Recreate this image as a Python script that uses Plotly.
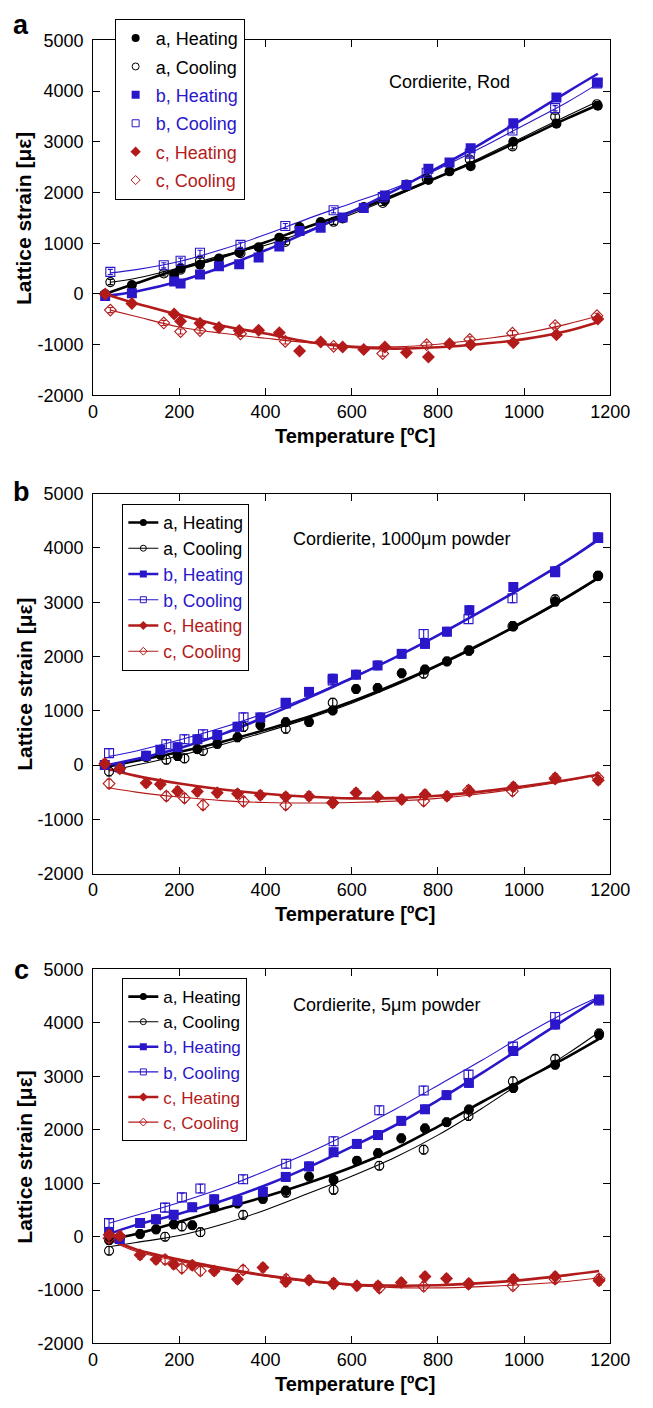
import plotly.graph_objects as go

FONT = "Liberation Sans, Arial, Helvetica, sans-serif"
BLACK, BLUE, RED = "#000000", "#2a17c9", "#b31b1b"
W, H = 653, 1408

# ---------------- Panel a : Cordierite, rod ----------------
rod_T_heat = [28, 90, 188, 203, 248, 292, 339, 384, 432, 479, 528, 579, 628, 677, 727, 778, 827, 876, 975, 1075, 1171]
rod_a_heat = [0, 175, 380, 506, 578, 700, 818, 922, 1110, 1318, 1420, 1487, 1714, 1844, 2156, 2247, 2416, 2519, 3000, 3357, 3708]
rod_b_heat = [-39, 13, 247, 208, 383, 545, 584, 721, 935, 1240, 1305, 1506, 1695, 1942, 2149, 2468, 2591, 2870, 3364, 3870, 4169]
rod_c_heat = [0, -188, -396, -539, -578, -662, -721, -714, -766, -1123, -948, -1045, -1097, -1045, -1156, -1240, -981, -1000, -961, -805, -494]
rod_T_cool = [40, 164, 203, 248, 342, 446, 558, 672, 774, 874, 973, 1072, 1169]
rod_a_cool = [234, 403, 480, 656, 804, 1026, 1422, 1792, 2273, 2649, 2909, 3494, 3740]
rod_b_cool = [435, 565, 656, 812, 968, 1338, 1649, 1909, 2390, 2766, 3221, 3662, 4150]
rod_c_cool = [-318, -571, -740, -721, -786, -935, -1032, -1175, -1000, -896, -773, -623, -429]

# fitted curves
rod_fitT_heat = [28, 100, 200, 300, 400, 500, 600, 700, 800, 900, 1000, 1100, 1171]
rod_fit_a_heat = [0, 210, 490, 730, 1020, 1330, 1620, 1950, 2300, 2660, 3060, 3460, 3725]
rod_fit_b_heat = [-40, 50, 250, 530, 860, 1230, 1620, 2040, 2490, 2960, 3460, 3980, 4340]
rod_fit_c_heat = [0, -190, -410, -625, -780, -945, -1045, -1078, -1050, -985, -890, -730, -558]
rod_fitT_cool = [40, 100, 200, 300, 400, 500, 600, 700, 800, 900, 1000, 1100, 1169]
rod_fit_a_cool = [230, 310, 520, 760, 960, 1250, 1570, 1920, 2300, 2690, 3100, 3510, 3790]
rod_fit_b_cool = [415, 480, 640, 880, 1170, 1490, 1790, 2090, 2460, 2880, 3330, 3780, 4130]
rod_fit_c_cool = [-318, -444, -650, -775, -873, -963, -1025, -1040, -990, -890, -774, -595, -441]
rod_err = 50

# ---------------- Panel b : Cordierite, 1000 um powder ----------------
p1000_T_heat = [27, 62, 123, 156, 196, 242, 288, 335, 388, 447, 501, 556, 610, 660, 716, 770, 821, 873, 975, 1072, 1172]
p1000_a_heat = [0, -55, 150, 190, 165, 293, 390, 512, 738, 790, 793, 1006, 1400, 1418, 1690, 1760, 1910, 2110, 2555, 3012, 3490]
p1000_b_heat = [0, -40, 171, 280, 329, 476, 555, 707, 878, 1134, 1348, 1591, 1665, 1835, 2049, 2232, 2457, 2854, 3280, 3573, 4183]
p1000_c_heat = [24, -67, -329, -354, -482, -488, -512, -530, -555, -585, -573, -695, -512, -585, -634, -543, -573, -482, -402, -256, -280]
p1000_T_cool = [37, 170, 212, 255, 349, 447, 556, 767, 871, 973, 1072, 1171]
p1000_a_cool = [-120, 98, 122, 259, 701, 668, 1149, 1683, 2110, 2560, 3055, 3482]
p1000_b_cool = [220, 384, 476, 567, 878, 1146, 1561, 2415, 2689, 3073, 3555, 4195]
p1000_c_cool = [-341, -573, -610, -738, -671, -738, -695, -665, -463, -482, -238, -230]

p1000_fitT_heat = [27, 100, 200, 300, 400, 500, 600, 700, 800, 900, 1000, 1100, 1172]
p1000_fit_a_heat = [-40, 80, 240, 430, 650, 890, 1170, 1490, 1840, 2230, 2650, 3100, 3450]
p1000_fit_b_heat = [-10, 110, 310, 570, 890, 1240, 1600, 1980, 2390, 2830, 3290, 3770, 4150]
p1000_fit_c_heat = [-55, -200, -340, -450, -530, -585, -615, -610, -565, -490, -390, -275, -180]
p1000_fitT_cool = [37, 100, 200, 300, 400, 500, 600, 700, 800, 900, 1000, 1100, 1171]
p1000_fit_a_cool = [-110, 0, 170, 380, 610, 860, 1140, 1460, 1820, 2210, 2630, 3080, 3430]
p1000_fit_b_cool = [160, 260, 460, 690, 960, 1260, 1610, 1980, 2390, 2840, 3290, 3770, 4170]
p1000_fit_c_cool = [-420, -500, -590, -655, -690, -700, -690, -665, -615, -530, -420, -290, -180]
p1000_err = 80

# ---------------- Panel c : Cordierite, 5 um powder ----------------
p5_T_heat = [37, 62, 109, 146, 187, 230, 281, 335, 394, 447, 501, 558, 612, 661, 715, 770, 820, 872, 975, 1072, 1174]
p5_a_heat = [-68, -25, 50, 136, 230, 213, 546, 620, 707, 860, 1124, 1062, 1420, 1562, 1840, 2025, 2140, 2378, 2780, 3216, 3772]
p5_b_heat = [68, -43, 253, 327, 407, 549, 698, 673, 840, 1117, 1315, 1580, 1735, 1901, 2167, 2383, 2648, 2877, 3475, 3969, 4438]
p5_c_heat = [37, 10, -346, -426, -519, -537, -642, -796, -580, -846, -815, -889, -920, -920, -858, -747, -784, -877, -796, -747, -827]
p5_T_cool = [37, 167, 206, 249, 348, 448, 558, 664, 767, 871, 974, 1072, 1174]
p5_a_cool = [-265, -3, 191, 83, 407, 824, 876, 1327, 1627, 2259, 2907, 3327, 3802]
p5_b_cool = [253, 543, 735, 901, 1074, 1364, 1784, 2364, 2735, 3031, 3556, 4111, 4420]
p5_c_cool = [-30, -430, -592, -642, -623, -796, -870, -963, -932, -889, -920, -796, -790]

p5_fitT_heat = [37, 100, 200, 300, 400, 500, 600, 700, 800, 900, 1000, 1100, 1174]
p5_fit_a_heat = [-50, 50, 280, 520, 750, 1010, 1300, 1640, 2060, 2510, 2940, 3360, 3700]
p5_fit_b_heat = [50, 220, 430, 670, 960, 1300, 1680, 2080, 2550, 3050, 3570, 4090, 4470]
p5_fit_c_heat = [-30, -240, -430, -590, -725, -827, -895, -918, -910, -870, -810, -720, -645]
p5_fitT_cool = [37, 100, 200, 300, 400, 500, 600, 700, 800, 900, 1000, 1100, 1174]
p5_fit_a_cool = [-190, -110, 20, 230, 500, 810, 1130, 1480, 1900, 2390, 2920, 3420, 3830]
p5_fit_b_cool = [250, 400, 640, 910, 1230, 1570, 1960, 2380, 2830, 3290, 3770, 4210, 4490]
p5_fit_c_cool = [-60, -280, -460, -620, -740, -846, -915, -955, -960, -935, -895, -840, -770]
p5_err = 80

panel_letters = ["a", "b", "c"]
panel_titles = ["Cordierite, Rod", "Cordierite, 1000\u03bcm powder", "Cordierite, 5\u03bcm powder"]
x_ticks = [0, 200, 400, 600, 800, 1000, 1200]
y_ticks = [-2000, -1000, 0, 1000, 2000, 3000, 4000, 5000]
y_tick_text = ["-2000", "-1000", "0", "1000", "2000", "3000", "4000", "5000"]

panels = [
    dict(T_heat=rod_T_heat, heat=[rod_a_heat, rod_b_heat, rod_c_heat],
         T_cool=rod_T_cool, cool=[rod_a_cool, rod_b_cool, rod_c_cool],
         fitT_heat=rod_fitT_heat, fit_heat=[rod_fit_a_heat, rod_fit_b_heat, rod_fit_c_heat],
         fitT_cool=rod_fitT_cool, fit_cool=[rod_fit_a_cool, rod_fit_b_cool, rod_fit_c_cool],
         err=rod_err),
    dict(T_heat=p1000_T_heat, heat=[p1000_a_heat, p1000_b_heat, p1000_c_heat],
         T_cool=p1000_T_cool, cool=[p1000_a_cool, p1000_b_cool, p1000_c_cool],
         fitT_heat=p1000_fitT_heat, fit_heat=[p1000_fit_a_heat, p1000_fit_b_heat, p1000_fit_c_heat],
         fitT_cool=p1000_fitT_cool, fit_cool=[p1000_fit_a_cool, p1000_fit_b_cool, p1000_fit_c_cool],
         err=p1000_err),
    dict(T_heat=p5_T_heat, heat=[p5_a_heat, p5_b_heat, p5_c_heat],
         T_cool=p5_T_cool, cool=[p5_a_cool, p5_b_cool, p5_c_cool],
         fitT_heat=p5_fitT_heat, fit_heat=[p5_fit_a_heat, p5_fit_b_heat, p5_fit_c_heat],
         fitT_cool=p5_fitT_cool, fit_cool=[p5_fit_a_cool, p5_fit_b_cool, p5_fit_c_cool],
         err=p5_err),
]

series = [("a", BLACK, "circle", 10), ("b", BLUE, "square", 10), ("c", RED, "diamond", 10)]

# plot-area geometry in pixels (left, right) and (top, bottom) per panel
x_px = (91.6, 629.4)
y_px = [(30.7, 391.0), (490.7, 876.0), (973.3, 1352.7)]
legend_px = [(114, 9), (122, 500.7), (122, 982)]
legend_font = [18, 17.5, 17]
letter_px = [(17, 15.6), (17, 488.5), (17, 973.5)]
title_px = [(397, 73.0), (297, 536.7), (297, 1009.7)]


def px(x, y):
    return x / W, 1 - y / H


fig = go.Figure()
legend_ids = ["legend", "legend2", "legend3"]

for i, p in enumerate(panels):
    xa = "x" if i == 0 else f"x{i + 1}"
    ya = "y" if i == 0 else f"y{i + 1}"
    # fitted curves
    for j, (lab, col, sym, size) in enumerate(series):
        fig.add_trace(go.Scatter(
            x=p["fitT_heat"], y=p["fit_heat"][j], mode="lines",
            line=dict(color=col, width=2.6, shape="spline", smoothing=1.0),
            xaxis=xa, yaxis=ya, showlegend=False, hoverinfo="skip"))
        fig.add_trace(go.Scatter(
            x=p["fitT_cool"], y=p["fit_cool"][j], mode="lines",
            line=dict(color=col, width=1.1, shape="spline", smoothing=1.0),
            xaxis=xa, yaxis=ya, showlegend=False, hoverinfo="skip"))
    # measured points with error bars
    for j, (lab, col, sym, size) in enumerate(series):
        fig.add_trace(go.Scatter(
            x=p["T_cool"], y=p["cool"][j], mode="markers",
            marker=dict(symbol=sym + "-open", size=size - 1, color=col, line=dict(width=1.1, color=col)),
            error_y=dict(type="constant", value=p["err"], color=col, thickness=1.1, width=2.5),
            xaxis=xa, yaxis=ya, showlegend=False, name=f"{lab}, Cooling"))
        fig.add_trace(go.Scatter(
            x=p["T_heat"], y=p["heat"][j], mode="markers",
            marker=dict(symbol=sym, size=size, color=col, line=dict(width=0)),
            error_y=dict(type="constant", value=p["err"], color=col, thickness=1.1, width=2.5),
            xaxis=xa, yaxis=ya, showlegend=False, name=f"{lab}, Heating"))
    # legend entries
    for j, (lab, col, sym, size) in enumerate(series):
        for kind, is_open in (("Heating", False), ("Cooling", True)):
            mode = "markers" if i == 0 else "lines+markers"
            msize = 8 if i == 0 else 7
            kw = {}
            if i == 0:
                kw["legendgroup"] = f"{lab}{kind}"
            fig.add_trace(go.Scatter(
                x=[None], y=[None], mode=mode,
                name=f"<span style='color:{col}'>{lab}, {kind}</span>",
                marker=dict(symbol=sym + ("-open" if is_open else ""), size=msize - (1 if is_open else 0),
                            color=col, line=dict(width=1 if is_open else 0, color=col)),
                line=dict(color=col, width=1.1 if is_open else 2.6),
                xaxis=xa, yaxis=ya, legend=legend_ids[i], **kw))

axis_common = dict(
    showline=True, linecolor="black", linewidth=1, mirror="allticks",
    ticks="inside", ticklen=7, tickwidth=1, tickcolor="black",
    showgrid=False, zeroline=False,
    tickfont=dict(family=FONT, size=18, color="black"),
)

layout = dict(
    width=W, height=H, margin=dict(l=0, r=0, t=0, b=0),
    paper_bgcolor="white", plot_bgcolor="white",
    font=dict(family=FONT, color="black"),
)

annotations = []
for i in range(3):
    sfx = "" if i == 0 else str(i + 1)
    top, bot = y_px[i]
    layout["xaxis" + sfx] = dict(
        axis_common, domain=[x_px[0] / W, x_px[1] / W], range=[0, 1200],
        tickvals=x_ticks, anchor="y" + sfx, ticklabelstandoff=0)
    layout["yaxis" + sfx] = dict(
        axis_common, domain=[1 - bot / H, 1 - top / H], range=[-2000, 5000],
        tickvals=y_ticks, ticktext=y_tick_text, anchor="x" + sfx, ticklabelstandoff=5)
    lx, ly = px(*legend_px[i])
    layout[legend_ids[i]] = dict(
        x=lx, y=ly, xanchor="left", yanchor="top",
        bgcolor="white", bordercolor="black", borderwidth=1,
        font=dict(family=FONT, size=legend_font[i], color="black"),
        tracegroupgap=2 if i == 0 else 0)
    # panel letter
    ax_, ay_ = px(*letter_px[i])
    annotations.append(dict(x=ax_, y=ay_, xref="paper", yref="paper", text=f"<b>{panel_letters[i]}</b>",
                            showarrow=False, xanchor="center", yanchor="middle",
                            font=dict(family=FONT, size=27, color="black")))
    # sample label
    tx, ty = px(*title_px[i])
    annotations.append(dict(x=tx, y=ty, xref="paper", yref="paper", text=panel_titles[i],
                            showarrow=False, xanchor="left", yanchor="middle",
                            font=dict(family=FONT, size=18, color="black")))
    # axis titles
    xt, yt = px(364, bot + 41)
    annotations.append(dict(x=xt, y=yt, xref="paper", yref="paper", text="<b>Temperature [\u00baC]</b>",
                            showarrow=False, xanchor="center", yanchor="middle",
                            font=dict(family=FONT, size=20, color="black")))
    yx, yy = px(20, (top + bot) / 2 + 1)
    annotations.append(dict(x=yx, y=yy, xref="paper", yref="paper", text="<b>Lattice strain [\u03bc\u03b5]</b>",
                            showarrow=False, xanchor="center", yanchor="middle", textangle=-90,
                            font=dict(family=FONT, size=21, color="black")))

layout["annotations"] = annotations
fig.update_layout(**layout)
fig.write_html("out.html")
